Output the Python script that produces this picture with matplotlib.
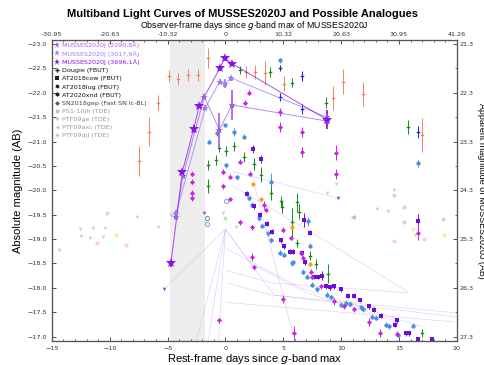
import matplotlib
matplotlib.use('Agg')
import matplotlib.pyplot as plt
from matplotlib.lines import Line2D
from matplotlib.ticker import MultipleLocator, FixedLocator

# ---------------- data ----------------
# MUSSES2020J (rest-frame day, absolute mag, err)
mus2290_x = [-4.25, -3.67, -1.83, -0.53, 0.57, 8.77]
mus2290_m = [-19.46, -20.30, -21.92, -21.24, -21.75, -21.42]
mus2290_e = [0.05, 0.05, 0.05, 0.35, 0.30, 0.10]
mus3018_x = [-4.25, -1.74, -0.50, 0.00, 0.51, 8.77]
mus3018_m = [-19.54, -21.69, -22.23, -22.19, -22.30, -21.50]
mus3018_e = [0.05, 0.05, 0.05, 0.10, 0.05, 0.10]
mus3696_x = [-4.71, -3.73, -2.76, -2.26, -0.50, -0.07, 0.57, 8.77]
mus3696_m = [-18.50, -20.38, -21.25, -21.73, -22.50, -22.71, -22.60, -21.45]
mus3696_e = [0.08, 0.05, 0.08, 0.05, 0.05, 0.05, 0.05, 0.20]

# comparison objects, one list per colour/band
sal_x = [-7.43, -6.57, -5.79, -4.92, -4.11, -3.24, -2.41, -1.54, 1.81, 2.59, 3.46, 5.10, 9.32, 10.19, 11.92, 16.95]
sal_m = [-20.60, -21.20, -21.80, -22.34, -22.28, -22.36, -22.36, -22.71, -22.43, -22.43, -22.40, -22.19, -21.89, -22.23, -21.98, -21.14]
sal_e = [0.30, 0.30, 0.15, 0.12, 0.12, 0.12, 0.12, 0.20, 0.12, 0.15, 0.25, 0.15, 0.25, 0.25, 0.25, 0.35]

grn_x = [1.23, 3.83, 5.77, 8.66, 15.74, -1.54, -0.79, -0.59, 0.08, 0.77, 1.58, 2.44, 3.08, -1.54, 3.90, 4.76, 4.90, 5.77, 6.20, 6.35, 6.20, 7.30, 7.79, 8.86, 16.95]
grn_m = [-22.47, -22.43, -22.21, -21.80, -21.30, -20.52, -20.62, -20.86, -20.80, -20.90, -20.69, -20.54, -20.32, -20.09, -19.95, -19.77, -19.65, -19.34, -19.75, -19.56, -18.92, -18.66, -18.49, -18.29, -17.08]
grn_e = [0.08, 0.10, 0.10, 0.12, 0.15, 0.10, 0.10, 0.08, 0.10, 0.10, 0.10, 0.12, 0.15, 0.15, 0.15, 0.12, 0.12, 0.30, 0.20, 0.15, 0.08, 0.10, 0.10, 0.20, 0.08]

blu_x = [4.70, 4.70, 6.58, 6.58, 16.60]
blu_m = [-22.50, -21.92, -22.34, -21.66, -21.20]
blu_e = [0.06, 0.08, 0.10, 0.10, 0.12]

lbl_x = [4.70, 16.60, -1.39, -0.73, 0.00, 0.77, 1.58, 0.02, 1.00, 3.95, 2.00, 2.30, 2.88, 3.17, 3.66, 3.95, 4.70, 5.04, 5.77, 5.86, 6.72, 7.01, 7.12, 7.30, 7.50, 7.94, 8.74, 9.09, 10.02, 10.39, 10.76, 11.69, 11.92, 12.70, 12.99, 13.86, 14.14, 14.87, 16.17]
lbl_m = [-22.67, -20.55, -21.00, -21.17, -21.34, -21.20, -21.10, -20.51, -20.27, -20.16, -19.84, -19.70, -19.43, -19.27, -19.12, -18.97, -18.72, -18.68, -18.50, -18.52, -18.33, -18.23, -19.36, -18.86, -18.06, -17.97, -17.86, -17.81, -17.65, -17.69, -17.67, -17.60, -17.56, -17.41, -17.38, -17.24, -17.21, -17.04, -17.22]
lbl_e = [0.05, 0.08, 0.06, 0.06, 0.05, 0.08, 0.05, 0.05, 0.05, 0.20, 0.05, 0.05, 0.05, 0.05, 0.05, 0.05, 0.05, 0.05, 0.05, 0.05, 0.05, 0.05, 0.10, 0.05, 0.05, 0.05, 0.05, 0.05, 0.05, 0.05, 0.05, 0.05, 0.05, 0.05, 0.05, 0.05, 0.05, 0.05, 0.05]

vio_x = [2.39, 3.08, 1.87, 2.44, 2.96, 3.60, 4.04, 4.76, 5.04, 5.62, 5.86, 6.64, 6.84, 6.78, 7.30, 7.64, 7.99, 8.37, 8.66, 9.03, 9.38, 9.96, 10.59, 11.10, 11.63, 12.41, 12.84, 13.48, 14.81, 14.64, 15.59, 15.88, 16.60, 17.84, 16.60]
vio_m = [-20.85, -20.64, -19.93, -19.67, -19.50, -19.31, -19.15, -18.97, -18.85, -18.74, -18.74, -18.71, -18.52, -19.39, -19.13, -18.22, -18.22, -18.25, -18.03, -18.01, -18.03, -17.97, -17.84, -17.84, -17.75, -17.62, -17.55, -17.43, -17.33, -17.24, -17.07, -17.07, -16.95, -16.95, -19.36]
vio_e = [0.08, 0.08, 0.05, 0.05, 0.05, 0.05, 0.05, 0.05, 0.05, 0.05, 0.05, 0.05, 0.05, 0.15, 0.05, 0.05, 0.05, 0.10, 0.05, 0.05, 0.05, 0.05, 0.05, 0.05, 0.05, 0.05, 0.05, 0.05, 0.05, 0.05, 0.05, 0.05, 0.05, 0.05, 0.15]

mag_x = [1.70, 2.07, 4.70, 4.70, 6.58, 6.58, 9.52, 9.52, 1.29, 2.10, 3.31, 3.54, 4.99, 5.68, 6.55, 6.72, 7.36, 7.50, 8.28, 9.38, 10.24, 11.10, 12.41, 13.36, 14.81, 16.60, -2.87, -2.87, -2.87, -2.87, -0.21, -0.21, 0.36, 0.36, 1.23, 2.30, 2.30, 2.44, 4.99, 5.91, -0.59]
mag_m = [-21.80, -22.00, -21.61, -21.30, -21.19, -20.78, -20.77, -20.34, -20.59, -20.34, -19.70, -19.60, -19.19, -19.02, -18.72, -18.61, -18.33, -18.22, -18.03, -17.72, -17.62, -17.56, -17.29, -17.07, -17.06, -19.13, -20.34, -20.18, -19.95, -19.84, -20.38, -20.08, -20.28, -19.82, -19.34, -19.24, -18.63, -18.42, -17.77, -17.07, -17.33]
mag_e = [0.05, 0.05, 0.08, 0.10, 0.10, 0.10, 0.15, 0.10, 0.05, 0.05, 0.08, 0.05, 0.05, 0.05, 0.05, 0.05, 0.05, 0.05, 0.05, 0.08, 0.05, 0.05, 0.08, 0.08, 0.05, 0.15, 0.05, 0.05, 0.05, 0.05, 0.05, 0.05, 0.05, 0.05, 0.05, 0.05, 0.08, 0.05, 0.08, 0.15, 0.05]

org_x = [2.39, 3.08, 5.77, 7.30]
org_m = [-20.13, -19.82, -19.24, -18.49]

tri_x = [-5.27, -1.89, 9.72]
tri_m = [-17.98, -19.54, -19.84]

# SN2018gep (open circles)
gep_x = [-1.60, -1.60, 0.02]
gep_m = [-19.43, -19.31, -19.77]
gep_c = ['#2e8b57', '#4a90e2', '#4a90e2']

# TDEs (faint)
ge_x = [-11.70, -10.40, -10.55, -7.66, -5.79, 8.74, 9.52, 14.58, 14.06, 16.40, 0.88, -14.37, -12.57, -11.42, -12.51, -4.71, 13.08, -0.20]
ge_m = [-19.02, -19.22, -19.04, -19.46, -19.24, -19.95, -20.13, -20.00, -19.58, -19.09, -19.25, -18.78, -19.20, -19.22, -19.06, -19.49, -19.61, -19.54]
ge_c = ['#55aa44'] * 11 + ['#6a7fd0'] * 7
jh_x = [-10.20, 15.44, 15.44, 0.00, -11.07, -8.59, 14.58, 17.18, -9.45, 16.25, 18.90]
jh_m = [-19.54, -19.65, -19.34, -19.43, -18.92, -18.88, -18.95, -19.00, -19.09, -19.20, -19.09]
jh_c = ['#7b68ee', '#7b68ee', '#3aa040', '#3aa040', '#ff5a6a', '#ff5a6a', '#ff5a6a', '#ff5a6a', '#f5b800', '#f5b800', '#f5b800']
axc_x = [11.06]
axc_m = [-19.46]
djl_x = [18.77, 14.58]
djl_m = [-19.41, -19.90]

# faint connecting lines
faint_paths_x = [[-5.27, 0.0], [0.0, 2.2, 7.0, 15.0], [0.0, 4.2, 20.0], [0.1, 6.5, 17.0],
                 [0.1, 4.0, 15.7], [0.1, 4.0, 19.7], [0.0, -1.5], [0.0, -0.6], [2.3, 6.0],
                 [0.67, 9.7], [0.67, 7.36, 15.74], [-2.5, 0.0], [0.1, 19.75]]
faint_paths_m = [[-17.98, -19.2], [-19.2, -18.5, -17.9, -17.3], [-19.2, -17.85, -17.4], [-18.8, -18.0, -17.2],
                 [-18.35, -18.1, -17.9], [-18.1, -17.85, -17.49], [-19.2, -16.9], [-19.2, -16.9], [-20.3, -16.9],
                 [-20.38, -19.84], [-20.08, -19.15, -17.92], [-16.92, -19.2], [-17.7, -17.3]]

rest_ticks = [-15, -10, -5, 0, 5, 10, 15, 20]
zfac = 2.0632
app_ticks = [21.3, 22.3, 23.3, 24.3, 25.3, 26.3, 27.3]
dist_mod = 44.3

legend_labels = ['MUSSES2020J (2290,8Å)', 'MUSSES2020J (3017,9Å)', 'MUSSES2020J (3696,1Å)',
                 'Dougie (FBUT)', 'AT2018cow (FBUT)', 'AT2018lug (FBUT)', 'AT2020xnd (FBUT)',
                 'SN2018gep (Fast SN Ic-BL)', 'PS1-10jh (TDE)', 'PTF09ge (TDE)', 'PTF09axc (TDE)', 'PTF09djl (TDE)']

# ---------------- styling ----------------
C2290 = '#a35ee8'
C3018 = '#9c7cf0'
C3696 = '#8a14e8'
SAL = '#f4845f'
GRN = '#138a13'
BLU = '#1a1ae6'
LBL = '#4a90e2'
VIO = '#6a0ee0'
MAG = '#cc22e6'
ORG = '#f5a020'
FAINT = '#c9b0f0'

plt.rcParams['font.family'] = ['DejaVu Sans']
fig = plt.figure(figsize=(4.85, 3.65), dpi=100)
ax = fig.add_axes([0.107, 0.066, 0.835, 0.824])

ax.axvspan(-4.75, -1.8, color='#ededed', zorder=0, lw=0)

for px, pm in zip(faint_paths_x, faint_paths_m):
    ax.plot(px, pm, color=FAINT, lw=0.5, alpha=0.55, zorder=1)

def eb(x, m, e, color, marker, ms=2.6, z=3, alpha=1.0, lw=0.7):
    ax.errorbar(x, m, yerr=e, fmt=marker, color=color, ecolor=color, ms=ms,
                elinewidth=lw, capsize=0, mew=0, zorder=z, alpha=alpha)

# faint TDE points
for x, m, c in zip(ge_x, ge_m, ge_c):
    ax.plot(x, m, marker='v', color=c, ms=2.6, alpha=0.4, ls='none', mew=0, zorder=2)
for x, m, c in zip(jh_x, jh_m, jh_c):
    ax.plot(x, m, marker='o', color=c, ms=3.0, alpha=0.3, ls='none', mew=0, zorder=2)
ax.plot(axc_x, axc_m, marker='<', color='#888888', ms=2.6, alpha=0.4, ls='none', zorder=2)
ax.plot(djl_x, djl_m, marker='+', color='#55aa44', ms=3.5, alpha=0.45, ls='none', zorder=2)
for x, m, c in zip(gep_x, gep_m, gep_c):
    ax.plot(x, m, marker='o', mfc='none', mec=c, ms=3.0, mew=0.7, ls='none', alpha=0.8, zorder=2)

eb(sal_x, sal_m, sal_e, SAL, 'P')
eb(lbl_x, lbl_m, lbl_e, LBL, 'h', ms=3.4)
eb(grn_x, grn_m, grn_e, GRN, 'P')
eb(blu_x, blu_m, blu_e, BLU, 'P')
eb(vio_x, vio_m, vio_e, VIO, 's', ms=3.1)
eb(mag_x, mag_m, mag_e, MAG, 'D', ms=2.6)
ax.plot(org_x, org_m, marker='o', color=ORG, ms=3.0, ls='none', mew=0, zorder=3)
ax.plot(tri_x, tri_m, marker='v', color='#8a4ee8', ms=2.6, ls='none', mew=0, zorder=3)

for x, m, e, c, ms in [(mus2290_x, mus2290_m, mus2290_e, C2290, 6),
                       (mus3018_x, mus3018_m, mus3018_e, C3018, 6),
                       (mus3696_x, mus3696_m, mus3696_e, C3696, 7)]:
    ax.plot(x, m, color=c, lw=0.7, alpha=0.75, zorder=4)
    ax.errorbar(x, m, yerr=e, fmt='*', color=c, ecolor=c, ms=ms, elinewidth=1.2,
                capsize=0, mew=0, zorder=5)

ax.set_xlim(-15, 20)
ax.set_ylim(-16.91, -23.08)
ax.xaxis.set_major_locator(FixedLocator(rest_ticks))
ax.xaxis.set_minor_locator(MultipleLocator(1))
ax.yaxis.set_major_locator(MultipleLocator(0.5))
ax.yaxis.set_major_formatter(matplotlib.ticker.FuncFormatter(lambda v, p: f"{v:.1f}".replace('-', '\u2212')))
ax.tick_params(axis='both', which='both', direction='in', labelsize=4.6, colors='#333333')
ax.tick_params(which='major', length=3, width=0.6)
ax.tick_params(which='minor', length=1.6, width=0.5)
for s in ax.spines.values():
    s.set_color('#555555')
    s.set_linewidth(0.8)

ax.set_xlabel('Rest-frame days since $g$-band max', fontsize=8, family='Liberation Sans', labelpad=1)
ax.set_ylabel('Absolute magnitude (AB)', fontsize=8, family='Liberation Sans', labelpad=3)

# top axis
axt = ax.twiny()
axt.set_xlim(ax.get_xlim())
axt.xaxis.set_major_locator(FixedLocator(rest_ticks))
axt.xaxis.set_minor_locator(MultipleLocator(1))
axt.set_xticklabels(['0' if t == 0 else f"{t * zfac:.2f}" for t in rest_ticks])
axt.tick_params(axis='x', which='both', direction='in', labelsize=4.6, colors='#333333', pad=2)
axt.tick_params(which='major', length=3, width=0.6)
axt.tick_params(which='minor', length=1.6, width=0.5)
axt.set_xlabel('Observer-frame days since $g$-band max of MUSSES2020J', fontsize=6.3,
               family='Liberation Sans', labelpad=3)

# right axis
axr = ax.twinx()
axr.set_ylim(ax.get_ylim()[0] + dist_mod, ax.get_ylim()[1] + dist_mod)
axr.yaxis.set_major_locator(FixedLocator(app_ticks))
axr.yaxis.set_minor_locator(FixedLocator([t + 0.5 for t in app_ticks[:-1]]))
axr.set_yticklabels([f"{t:.1f}" for t in app_ticks])
axr.tick_params(axis='y', which='both', direction='in', labelsize=4.6, colors='#333333', pad=2)
axr.tick_params(which='major', length=3, width=0.6)
axr.tick_params(which='minor', length=1.6, width=0.5)
axr.set_ylabel('Apparent magnitude of MUSSES2020J (AB)', fontsize=6.4, family='Liberation Sans',
               rotation=270, va='bottom', labelpad=2)
for a in (axt, axr):
    for s in a.spines.values():
        s.set_color('#555555')
        s.set_linewidth(0.8)

fig.suptitle('Multiband Light Curves of MUSSES2020J and Possible Analogues', fontsize=8,
             fontweight='bold', family='Liberation Sans', y=0.975)

# legend
handles = [
    Line2D([], [], marker='*', color=C2290, ls='none', ms=5, mew=0),
    Line2D([], [], marker='*', color=C3018, ls='none', ms=5, mew=0),
    Line2D([], [], marker='*', color=C3696, ls='none', ms=5, mew=0),
    Line2D([], [], marker='P', color='#222222', ls='none', ms=3, mew=0),
    Line2D([], [], marker='s', color='#222222', ls='none', ms=2.6, mew=0),
    Line2D([], [], marker='h', color='#222222', ls='none', ms=3, mew=0),
    Line2D([], [], marker='h', color='#222222', ls='none', ms=3.2, mew=0),
    Line2D([], [], marker='D', color='#555555', ls='none', ms=2.4, mew=0),
    Line2D([], [], marker='o', color='#999999', ls='none', ms=2.8, mew=0, alpha=0.6),
    Line2D([], [], marker='v', color='#999999', ls='none', ms=2.8, mew=0, alpha=0.6),
    Line2D([], [], marker='<', color='#999999', ls='none', ms=2.8, mew=0, alpha=0.6),
    Line2D([], [], marker='+', color='#999999', ls='none', ms=3.2, alpha=0.6),
]
leg = ax.legend(handles, legend_labels, loc='upper left', fontsize=4.6, frameon=False,
                handlelength=0.9, handletextpad=0.3, labelspacing=0.42, borderaxespad=0.2,
                borderpad=0.2)
text_cols = [C2290, C3018, C3696, '#111111', '#111111', '#111111', '#111111', '#444444',
             '#999999', '#999999', '#999999', '#999999']
for t, c in zip(leg.get_texts(), text_cols):
    t.set_color(c)

fig.savefig('out.png', dpi=100)
